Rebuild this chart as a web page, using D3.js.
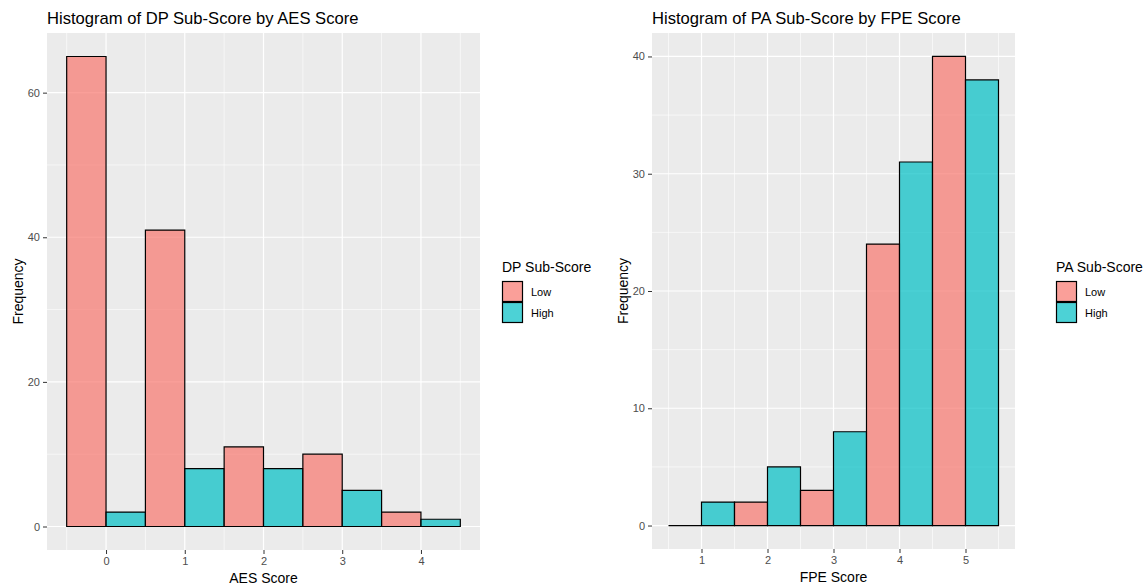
<!DOCTYPE html>
<html>
<head>
<meta charset="utf-8">
<script src="https://cdn.jsdelivr.net/npm/d3@7"></script>
<style>
  body { margin: 0; background: #fff; }
  text { font-family: "Liberation Sans", Arial, sans-serif; }
</style>
</head>
<body>
<div id="chart"></div>
<script>
// data
const groups = ["Low", "High"];
const aesScores = [0, 1, 2, 3, 4];
const dpLow = [65, 41, 11, 10, 2];
const dpHigh = [2, 8, 8, 5, 1];
const fpeScores = [1, 2, 3, 4, 5];
const paLow = [0, 2, 3, 24, 40];
const paHigh = [2, 5, 8, 31, 38];
const dpYTicks = [0, 20, 40, 60];
const paYTicks = [0, 10, 20, 30, 40];

const colors = { Low: "#F8766D", High: "#00BFC4" };

const svg = d3.select("#chart").append("svg")
  .attr("width", 1147).attr("height", 588);

function drawPanel(opt) {
  const { left, right, top, bottom, scores, low, high, yTicks, yMinor,
          title, xLab, legendTitle, legendX } = opt;

  const xMin = d3.min(scores) - 0.5, xMax = d3.max(scores) + 0.5;
  const xPad = (xMax - xMin) * 0.05;
  const yMax = d3.max(low.concat(high));
  const yPad = yMax * 0.05;

  const x = d3.scaleLinear().domain([xMin - xPad, xMax + xPad]).range([left, right]);
  const y = d3.scaleLinear().domain([-yPad, yMax + yPad]).range([bottom, top]);

  const g = svg.append("g");

  g.append("rect")
    .attr("x", left).attr("y", top)
    .attr("width", right - left).attr("height", bottom - top)
    .attr("fill", "#EBEBEB");

  // minor grid (half-way between scores)
  const xMinor = d3.range(xMin, xMax + 0.01, 1);
  g.selectAll(".xminor").data(xMinor).enter().append("line")
    .attr("x1", d => x(d)).attr("x2", d => x(d))
    .attr("y1", top).attr("y2", bottom)
    .attr("stroke", "#fff").attr("stroke-width", 0.6);
  g.selectAll(".yminor").data(yMinor).enter().append("line")
    .attr("x1", left).attr("x2", right)
    .attr("y1", d => y(d)).attr("y2", d => y(d))
    .attr("stroke", "#fff").attr("stroke-width", 0.6);
  // major grid
  g.selectAll(".xmajor").data(scores).enter().append("line")
    .attr("x1", d => x(d)).attr("x2", d => x(d))
    .attr("y1", top).attr("y2", bottom)
    .attr("stroke", "#fff").attr("stroke-width", 1.2);
  g.selectAll(".ymajor").data(yTicks).enter().append("line")
    .attr("x1", left).attr("x2", right)
    .attr("y1", d => y(d)).attr("y2", d => y(d))
    .attr("stroke", "#fff").attr("stroke-width", 1.2);

  // bars, dodged within each unit bin
  const bars = [];
  scores.forEach((s, i) => {
    bars.push({ x0: s - 0.5, x1: s, v: low[i], grp: "Low" });
    bars.push({ x0: s, x1: s + 0.5, v: high[i], grp: "High" });
  });
  // path so that a zero count still shows as a flat line
  g.selectAll(".bar").data(bars).enter().append("path")
    .attr("d", d => `M${x(d.x0)},${y(0)}V${y(d.v)}H${x(d.x1)}V${y(0)}Z`)
    .attr("fill", d => colors[d.grp])
    .attr("fill-opacity", 0.7)
    .attr("stroke", "#000")
    .attr("stroke-width", 1.2);

  // axes
  const xAxis = g.append("g")
    .attr("transform", `translate(0,${bottom})`)
    .call(d3.axisBottom(x).tickValues(scores).tickSize(4).tickPadding(3).tickFormat(d3.format("d")));
  xAxis.select(".domain").remove();
  xAxis.selectAll("line").attr("stroke", "#333");
  xAxis.selectAll("text").attr("fill", "#4D4D4D").style("font-size", "11px");

  const yAxis = g.append("g")
    .attr("transform", `translate(${left},0)`)
    .call(d3.axisLeft(y).tickValues(yTicks).tickSize(4).tickPadding(3).tickFormat(d3.format("d")));
  yAxis.select(".domain").remove();
  yAxis.selectAll("line").attr("stroke", "#333");
  yAxis.selectAll("text").attr("fill", "#4D4D4D").style("font-size", "11px");

  g.append("text")
    .attr("x", (left + right) / 2).attr("y", bottom + 33)
    .attr("text-anchor", "middle")
    .style("font-size", "14px")
    .text(xLab);

  g.append("text")
    .attr("transform", `translate(${left - 24},${(top + bottom) / 2}) rotate(-90)`)
    .attr("text-anchor", "middle")
    .style("font-size", "14px")
    .text("Frequency");

  g.append("text")
    .attr("x", left).attr("y", 24)
    .style("font-size", "16.6px")
    .text(title);

  // legend
  const lg = g.append("g").attr("transform", `translate(${legendX},0)`);
  lg.append("text").attr("x", 0).attr("y", 272)
    .style("font-size", "14px").text(legendTitle);
  const item = lg.selectAll(".item").data(groups).enter().append("g")
    .attr("transform", (d, i) => `translate(0,${281 + i * 21})`);
  item.append("rect")
    .attr("x", 0.5).attr("y", 0.5)
    .attr("width", 20).attr("height", 20)
    .attr("fill", d => colors[d])
    .attr("fill-opacity", 0.7)
    .attr("stroke", "#000").attr("stroke-width", 1.2);
  item.append("text")
    .attr("x", 29).attr("y", 15)
    .style("font-size", "11px")
    .text(d => d);
}

drawPanel({
  left: 47, right: 480, top: 33, bottom: 550,
  scores: aesScores, low: dpLow, high: dpHigh,
  yTicks: dpYTicks, yMinor: [10, 30, 50],
  title: "Histogram of DP Sub-Score by AES Score",
  xLab: "AES Score", legendTitle: "DP Sub-Score", legendX: 502
});

drawPanel({
  left: 652, right: 1015, top: 33, bottom: 549,
  scores: fpeScores, low: paLow, high: paHigh,
  yTicks: paYTicks, yMinor: [5, 15, 25, 35],
  title: "Histogram of PA Sub-Score by FPE Score",
  xLab: "FPE Score", legendTitle: "PA Sub-Score", legendX: 1056
});
</script>
</body>
</html>
